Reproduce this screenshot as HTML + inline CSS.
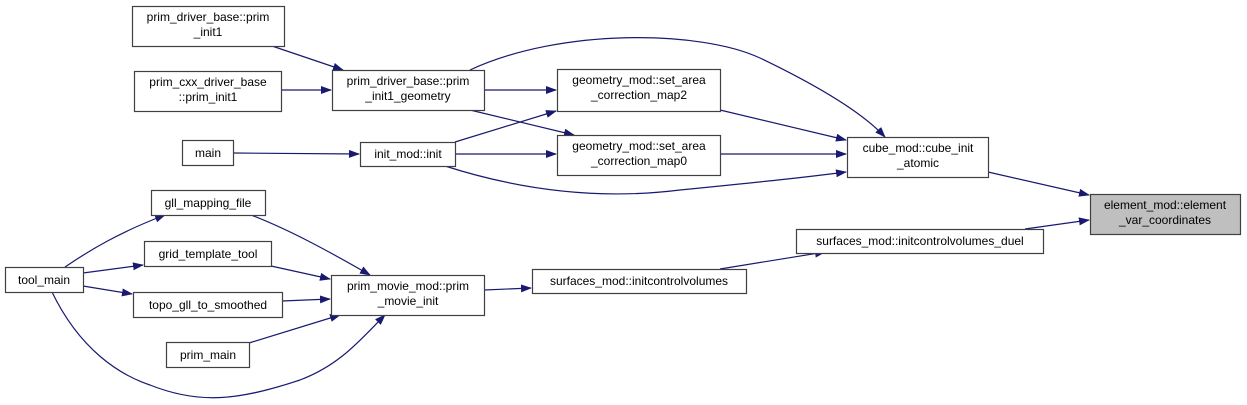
<!DOCTYPE html>
<html><head><meta charset="utf-8"><style>
html,body{margin:0;padding:0;background:#fff;}
svg{display:block;}
text{font-family:"Liberation Sans",Arial,sans-serif;font-size:12px;fill:#000;}
rect{fill:#fff;stroke:#404040;stroke-width:1.2;}
path{fill:none;stroke:#191970;stroke-width:1.2;}
</style></head><body>
<svg width="1247" height="405" viewBox="0 0 1247 405" xmlns="http://www.w3.org/2000/svg">
<defs><marker id="a" markerWidth="11" markerHeight="8" refX="10" refY="4" orient="auto" markerUnits="userSpaceOnUse"><polygon points="0,0 11,4 0,8" fill="#191970"/></marker></defs>
<g marker-end="url(#a)">
<path d="M272,46 L343,70"/>
<path d="M281,90 L331,90"/>
<path d="M233,153 L359,154"/>
<path d="M484,90 L556,90"/>
<path d="M470,110 L574,135"/>
<path d="M455,142 L556,111"/>
<path d="M455,154 L556,154"/>
<path d="M445,166 C520,190 600,200 680,190 C760,182 800,178 846,172"/>
<path d="M470,70 C560,28 700,30 760,58 C810,82 860,110 885,137"/>
<path d="M720,110 L846,140"/>
<path d="M720,154 L846,154"/>
<path d="M988,172 L1089,195"/>
<path d="M1025,229 L1089,220"/>
<path d="M720,269 L825,252"/>
<path d="M484,290 L531,288"/>
<path d="M251,215 C290,230 330,252 370,275"/>
<path d="M271,266 L330,279"/>
<path d="M282,301 L330,299"/>
<path d="M249,343 L340,315"/>
<path d="M65,267 C90,250 120,232 165,215"/>
<path d="M83,273 L143,265"/>
<path d="M83,286 L132,294"/>
<path d="M52,292 C80,350 120,375 150,385 C200,405 240,400 300,380 C340,365 360,340 385,315"/>
</g>
<rect x="132.5" y="6.5" width="152" height="40"/>
<text x="208" y="21" text-anchor="middle">prim_driver_base::prim</text>
<text x="208" y="36" text-anchor="middle">_init1</text>
<rect x="134.5" y="71.5" width="147" height="40"/>
<text x="208" y="86" text-anchor="middle">prim_cxx_driver_base</text>
<text x="208" y="101" text-anchor="middle">::prim_init1</text>
<rect x="182.5" y="140.5" width="51" height="25"/>
<text x="208" y="157" text-anchor="middle">main</text>
<rect x="332.5" y="70.5" width="152" height="40"/>
<text x="408" y="85" text-anchor="middle">prim_driver_base::prim</text>
<text x="408" y="100" text-anchor="middle">_init1_geometry</text>
<rect x="360.5" y="142.5" width="95" height="24"/>
<text x="408" y="158" text-anchor="middle">init_mod::init</text>
<rect x="151.5" y="190.5" width="114" height="25"/>
<text x="208" y="207" text-anchor="middle">gll_mapping_file</text>
<rect x="144.5" y="241.5" width="127" height="25"/>
<text x="208" y="258" text-anchor="middle">grid_template_tool</text>
<rect x="5.5" y="267.5" width="78" height="25"/>
<text x="44" y="284" text-anchor="middle">tool_main</text>
<rect x="133.5" y="292.5" width="149" height="25"/>
<text x="208" y="309" text-anchor="middle">topo_gll_to_smoothed</text>
<rect x="166.5" y="342.5" width="83" height="25"/>
<text x="208" y="359" text-anchor="middle">prim_main</text>
<rect x="331.5" y="275.5" width="153" height="40"/>
<text x="408" y="290" text-anchor="middle">prim_movie_mod::prim</text>
<text x="408" y="305" text-anchor="middle">_movie_init</text>
<rect x="557.5" y="69.5" width="163" height="42"/>
<text x="639" y="84" text-anchor="middle">geometry_mod::set_area</text>
<text x="639" y="99" text-anchor="middle">_correction_map2</text>
<rect x="557.5" y="135.5" width="163" height="40"/>
<text x="639" y="150" text-anchor="middle">geometry_mod::set_area</text>
<text x="639" y="165" text-anchor="middle">_correction_map0</text>
<rect x="847.5" y="137.5" width="141" height="40"/>
<text x="918" y="152" text-anchor="middle">cube_mod::cube_init</text>
<text x="918" y="167" text-anchor="middle">_atomic</text>
<rect x="1090.5" y="194.5" width="150" height="40" style="fill:#bfbfbf"/>
<text x="1165" y="209" text-anchor="middle">element_mod::element</text>
<text x="1165" y="224" text-anchor="middle">_var_coordinates</text>
<rect x="796.5" y="229.5" width="247" height="24"/>
<text x="920" y="245" text-anchor="middle">surfaces_mod::initcontrolvolumes_duel</text>
<rect x="532.5" y="269.5" width="214" height="24"/>
<text x="639" y="285" text-anchor="middle">surfaces_mod::initcontrolvolumes</text>
</svg>
</body></html>
